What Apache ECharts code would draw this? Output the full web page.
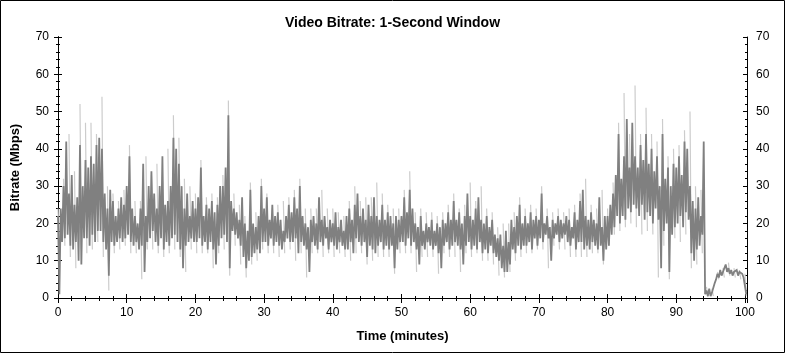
<!DOCTYPE html>
<html><head><meta charset="utf-8">
<script src="https://cdn.jsdelivr.net/npm/echarts@6/dist/echarts.min.js"></script>
<style>html,body{margin:0;padding:0;background:#fff}#c{width:785px;height:353px}</style>
</head><body><div id="c"></div>
<script>
const chartTitle = 'Video Bitrate: 1-Second Window';
const xName = 'Time (minutes)';
const yName = 'Bitrate (Mbps)';
const xTickLabels = [0, 10, 20, 30, 40, 50, 60, 70, 80, 90, 100];
const yTickLabels = [0, 10, 20, 30, 40, 50, 60, 70];

// Dark trace: alternating local highs (at 0.4*i min) and lows (at 0.4*i+0.2 min), Mbps
const darkStep = 0.4;
const darkHi = [
 22,24,30,42,28, 33,25,27,41,30, 37,35,38,36,41, 43,40,28,24,29,
 26,22,24,27,25, 30,38,24,22,20, 24,36,22,30,34, 28,24,30,38,25,
 26,30,43,40,36, 30,24,28,22,26, 24,27,35,22,25, 24,26,23,25,30,
 30,35,49,26,24, 23,21,27,20,18, 29,20,19,22,30, 24,27,21,25,22,
 23,21,18,22,25, 23,27,24,30,22, 20,19,21,22,20, 27,21,22,19,21,
 20,23,19,21,18, 22,24,21,25,28, 22,24,21,25,22, 27,22,21,25,21,
 23,22,20,22,21, 22,27,23,29,24, 20,19,22,18,20, 19,21,18,20,19,
 21,20,23,21,26, 21,23,20,22,28, 22,21,24,27,21, 20,22,19,21,17,
 16,17,14,18,15, 21,19,22,25,20, 22,20,23,21,22, 21,28,20,22,19,
 21,20,22,21,20, 22,21,19,23,21, 26,29,22,21,23, 21,20,27,19,22,
 22,25,28,33,44, 32,38,48,35,47, 38,35,41,37,44, 36,40,34,38,30,
 44,32,35,30,36, 35,38,33,42,40, 30,26,24,27,22, 42,2,2.5,1.5,4,
 6.5,7.5,7,9,8, 7.5,7,7.5,7,6.5, 6
];
const darkLo = [
 1,15,16,17,14, 13,15,10,9,16, 16,14,17,15,18, 18,15,13,6,15,
 14,15,16,15,16, 17,15,14,15,13, 14,7,15,16,18, 15,14,16,13,15,
 14,16,17,15,13, 8,14,15,16,15, 15,16,14,15,13, 15,13,9,14,16,
 17,15,8,18,17, 16,14,11,8,10, 11,12,13,12,15, 15,14,16,14,15,
 14,13,15,16,15, 15,16,12,15,14, 13,7,15,14,13, 15,14,16,13,15,
 14,13,15,14,13, 13,15,12,16,15, 14,15,11,14,13, 12,14,15,13,14,
 13,14,8,13,15, 15,14,16,14,15, 13,9,14,13,15, 14,13,14,12,8,
 14,15,13,14,15, 14,13,9,14,15, 13,14,13,15,12, 13,12,14,12,11,
 10,8,7,7,9, 13,12,14,13,14, 14,15,13,16,14, 16,15,17,16,10,
 16,17,15,16,17, 15,14,16,13,15, 15,13,14,13,15, 14,13,14,10,13,
 14,17,19,22,20, 22,21,24,23,25, 24,22,25,21,23, 22,20,24,21,8,
 18,20,7,17,19, 20,22,19,23,21, 12,10,13,14,17, 1,0.5,0.5,1,5,
 5.5,6,6.5,7,6.5, 6,6.5,6,6.5,5.5, 1
];

// Light trace (extremes): strokes from high at 0.8*j min down to low at 0.8*j+0.2 min, Mbps
const lightStep = 0.8;
const lightHi = [
 24,32,44,34,52, 47,47,44,54,30, 28,26,29,41,26, 26,38,33,36,33,
 40,49,43,32,30, 28,37,27,28,27, 33,53,28,25,22, 31,23,32,28,24,
 25,26,27,29,32, 24,24,24,29,24, 24,23,22,26,30, 26,27,27,31,28,
 25,24,24,29,34, 23,24,23,23,22, 23,25,28,24,25, 31,26,30,24,23,
 19,20,20,23,27, 24,25,24,30,24, 23,24,23,24,25, 28,32,25,24,29,
 24,31,47,55,44, 57,44,51,44,42, 48,38,40,41,45, 50,30,29,3,2.5,
 7,8,9.5,8,7.5, 6.5
];
const lightLo = [
 13,14,11,8,13, 12,13,15,11,2, 12,13,14,12,12, 5,13,13,12,11,
 12,13,11,7,13, 12,12,12,8,12, 13,6,14,9,5.5, 9,10,13,12,12,
 11,12,13,10,12, 5.5,12,12,11,12, 11,12,11,10,12, 12,9,10,11,11,
 11,6.5,12,12,12, 7,11,11,11,6.5, 12,11,11,7,12, 11,12,10,10,9,
 6,5.5,7,10,11, 12,12,13,13,8, 14,13,13,11,11, 11,11,12,12,9,
 14,17,18,19,20, 19,17,18,17,5.5, 14,5,16,15,17, 8,9,12,0.3,0.5,
 5,5.5,6,5.5,5, 0.5
];

function zigzag(hi, lo, step) {
  const out = [];
  for (let i = 0; i < hi.length; i++) {
    out.push([+(i * step).toFixed(2), hi[i]]);
    if (i < lo.length) out.push([+(i * step + step / 2).toFixed(2), lo[i]]);
  }
  return out;
}
function strokes(hi, lo, step) {
  const out = [];
  for (let j = 0; j < hi.length; j++) {
    const t = j * step;
    out.push([+t.toFixed(2), hi[j]]);
    out.push([+(t + 0.2).toFixed(2), lo[j]]);
    out.push([+(t + 0.3).toFixed(2), '-']);
  }
  return out;
}

const FONT = "'Liberation Sans', Arial, sans-serif";
const xMin = xTickLabels[0], xMax = 100.3, xInt = 10;
const yMin = yTickLabels[0], yMax = yTickLabels[yTickLabels.length - 1], yInt = 10;
const axisLine = { show: true, lineStyle: { color: '#000', width: 1 } };
const lbl = { color: '#000', fontFamily: FONT, fontSize: 12 };
const nameStyle = { fontFamily: FONT, fontSize: 13, fontWeight: 'bold', color: '#000' };

function xAx(opts) {
  return Object.assign({
    type: 'value', min: xMin, max: xMax, interval: xInt, position: 'bottom',
    axisLine: axisLine, splitLine: { show: false },
    axisLabel: { show: false }
  }, opts);
}
function yAx(opts) {
  return Object.assign({
    type: 'value', min: yMin, max: yMax, interval: yInt, position: 'left',
    axisLine: axisLine, splitLine: { show: false },
    axisLabel: { show: false }
  }, opts);
}

const chart = echarts.init(document.getElementById('c'), null, { renderer: 'canvas' });
chart.setOption({
  animation: false,
  backgroundColor: '#fff',
  title: {
    text: chartTitle, left: 'center', top: 11,
    textStyle: { fontFamily: FONT, fontSize: 14, fontWeight: 'bold', color: '#000' }
  },
  grid: { left: 58, right: 38, top: 37, bottom: 55, containLabel: false },
  xAxis: [
    xAx({
      name: xName, nameLocation: 'middle', nameGap: 32, nameTextStyle: nameStyle,
      axisTick: { show: true, inside: false, length: 4, lineStyle: { color: '#000' } },
      minorTick: { show: true, splitNumber: 5, length: 2, lineStyle: { color: '#000' } },
      axisLabel: Object.assign({ show: true, margin: 9,
        formatter: v => (xTickLabels.indexOf(v) >= 0 ? String(v) : '') }, lbl)
    }),
    xAx({
      axisTick: { show: true, inside: true, length: 4, lineStyle: { color: '#000' } },
      minorTick: { show: true, splitNumber: 5, length: 2, lineStyle: { color: '#000' } }
    }),
    xAx({
      position: 'top',
      axisTick: { show: true, inside: true, length: 5, lineStyle: { color: '#000' } },
      minorTick: { show: true, splitNumber: 5, length: 3, lineStyle: { color: '#000' } }
    })
  ],
  yAxis: [
    yAx({
      name: yName, nameLocation: 'middle', nameGap: 36, nameRotate: 90, nameTextStyle: nameStyle,
      axisTick: { show: true, inside: false, length: 4, lineStyle: { color: '#000' } },
      minorTick: { show: true, splitNumber: 5, length: 2, lineStyle: { color: '#000' } },
      axisLabel: Object.assign({ show: true, margin: 9 }, lbl)
    }),
    yAx({
      axisTick: { show: true, inside: true, length: 4, lineStyle: { color: '#000' } },
      minorTick: { show: true, splitNumber: 5, length: 2, lineStyle: { color: '#000' } }
    }),
    yAx({
      position: 'right',
      axisTick: { show: true, inside: false, length: 4, lineStyle: { color: '#000' } },
      minorTick: { show: true, splitNumber: 5, length: 2, lineStyle: { color: '#000' } },
      axisLabel: Object.assign({ show: true, margin: 9 }, lbl)
    }),
    yAx({
      position: 'right',
      axisTick: { show: true, inside: true, length: 4, lineStyle: { color: '#000' } },
      minorTick: { show: true, splitNumber: 5, length: 2, lineStyle: { color: '#000' } }
    })
  ],
  series: [
    {
      type: 'line', name: 'peak', xAxisIndex: 0, yAxisIndex: 0,
      data: strokes(lightHi, lightLo, lightStep), connectNulls: false,
      showSymbol: false, symbol: 'none', sampling: null,
      lineStyle: { color: '#cccccc', width: 1.2 }, z: 2
    },
    {
      type: 'line', name: 'bitrate', xAxisIndex: 0, yAxisIndex: 0,
      data: zigzag(darkHi, darkLo, darkStep),
      showSymbol: false, symbol: 'none', sampling: null,
      lineStyle: { color: '#808080', width: 1.8, join: 'miter', miterLimit: 2 }, z: 3
    }
  ],
  graphic: [{
    type: 'rect', silent: true, z: 100,
    shape: { x: 0.5, y: 0.5, width: 784, height: 352 },
    style: { fill: null, stroke: '#000', lineWidth: 1 }
  }]
});
</script>
</body></html>
